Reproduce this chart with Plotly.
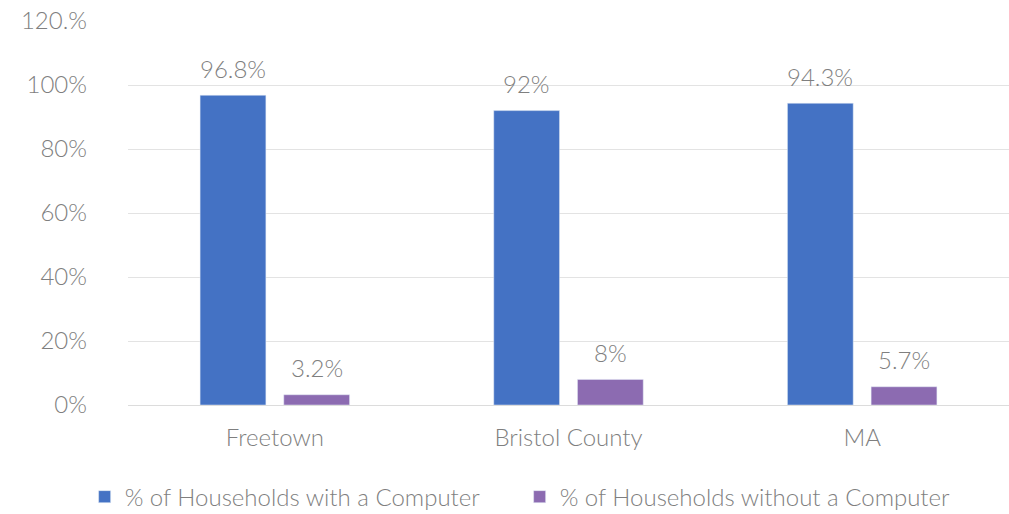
import plotly.graph_objects as go

# Household computer access by area
areas = ["Freetown", "Bristol County", "MA"]
with_computer = [96.8, 92, 94.3]
without_computer = [3.2, 8, 5.7]
with_labels = ["96.8%", "92%", "94.3%"]
without_labels = ["3.2%", "8%", "5.7%"]

y_tick_vals = [0, 20, 40, 60, 80, 100, 120]
y_tick_text = ["0%", "20%", "40%", "60%", "80%", "100%", "120.%"]

FONT = "Lato"
GREY = "#7f7f7f"
FSIZE = 24
W, H = 1009, 514
ML, MR = 128, 0
BARGAP = 0.43
GROUPGAP = 0.214

fig = go.Figure()
series = [
    ("% of Households with a Computer", with_computer, with_labels, "#4472C4"),
    ("% of Households without a Computer", without_computer, without_labels, "#8C6BB1"),
]
for name, vals, _, color in series:
    fig.add_trace(go.Bar(name=name, x=areas, y=vals, marker_color=color,
                         textposition="none"))

# value labels above each bar, offset to the centre of its bar within the group
cat_px = (W - ML - MR) / len(areas)
slot_px = (1 - BARGAP) * cat_px / len(series)
for i, (_, vals, labels, _) in enumerate(series):
    xshift = (i - (len(series) - 1) / 2) * slot_px
    for area, v, lab in zip(areas, vals, labels):
        fig.add_annotation(x=area, y=v, text=lab, showarrow=False,
                           xshift=xshift, yshift=27, yanchor="middle",
                           font=dict(family=FONT, size=FSIZE, color=GREY, weight=300))

fig.update_layout(
    width=W, height=H,
    margin=dict(l=ML, r=MR, t=21, b=109, autoexpand=False),
    paper_bgcolor="white", plot_bgcolor="white",
    barmode="group", bargap=BARGAP, bargroupgap=GROUPGAP,
    font=dict(family=FONT, size=FSIZE, color=GREY, weight=300),
    showlegend=True,
    legend=dict(orientation="h", xref="container", x=0.515, xanchor="center",
                yref="container", y=0.033, yanchor="middle",
                font=dict(family=FONT, size=FSIZE, color=GREY, weight=300),
                itemwidth=30, entrywidthmode="pixels", entrywidth=390),
)
fig.update_xaxes(showgrid=False, showline=False, ticks="", ticklabelstandoff=16,
                 tickfont=dict(family=FONT, size=FSIZE, color=GREY, weight=300))
fig.update_yaxes(range=[0, 120], tickvals=y_tick_vals, ticktext=y_tick_text,
                 showgrid=True, gridcolor="#e3e3e3", gridwidth=1,
                 zeroline=True, zerolinecolor="#dcdcdc", zerolinewidth=1,
                 showline=False, ticks="", ticklabelstandoff=40,
                 tickfont=dict(family=FONT, size=FSIZE, color=GREY, weight=300))

fig.write_html("out.html")
